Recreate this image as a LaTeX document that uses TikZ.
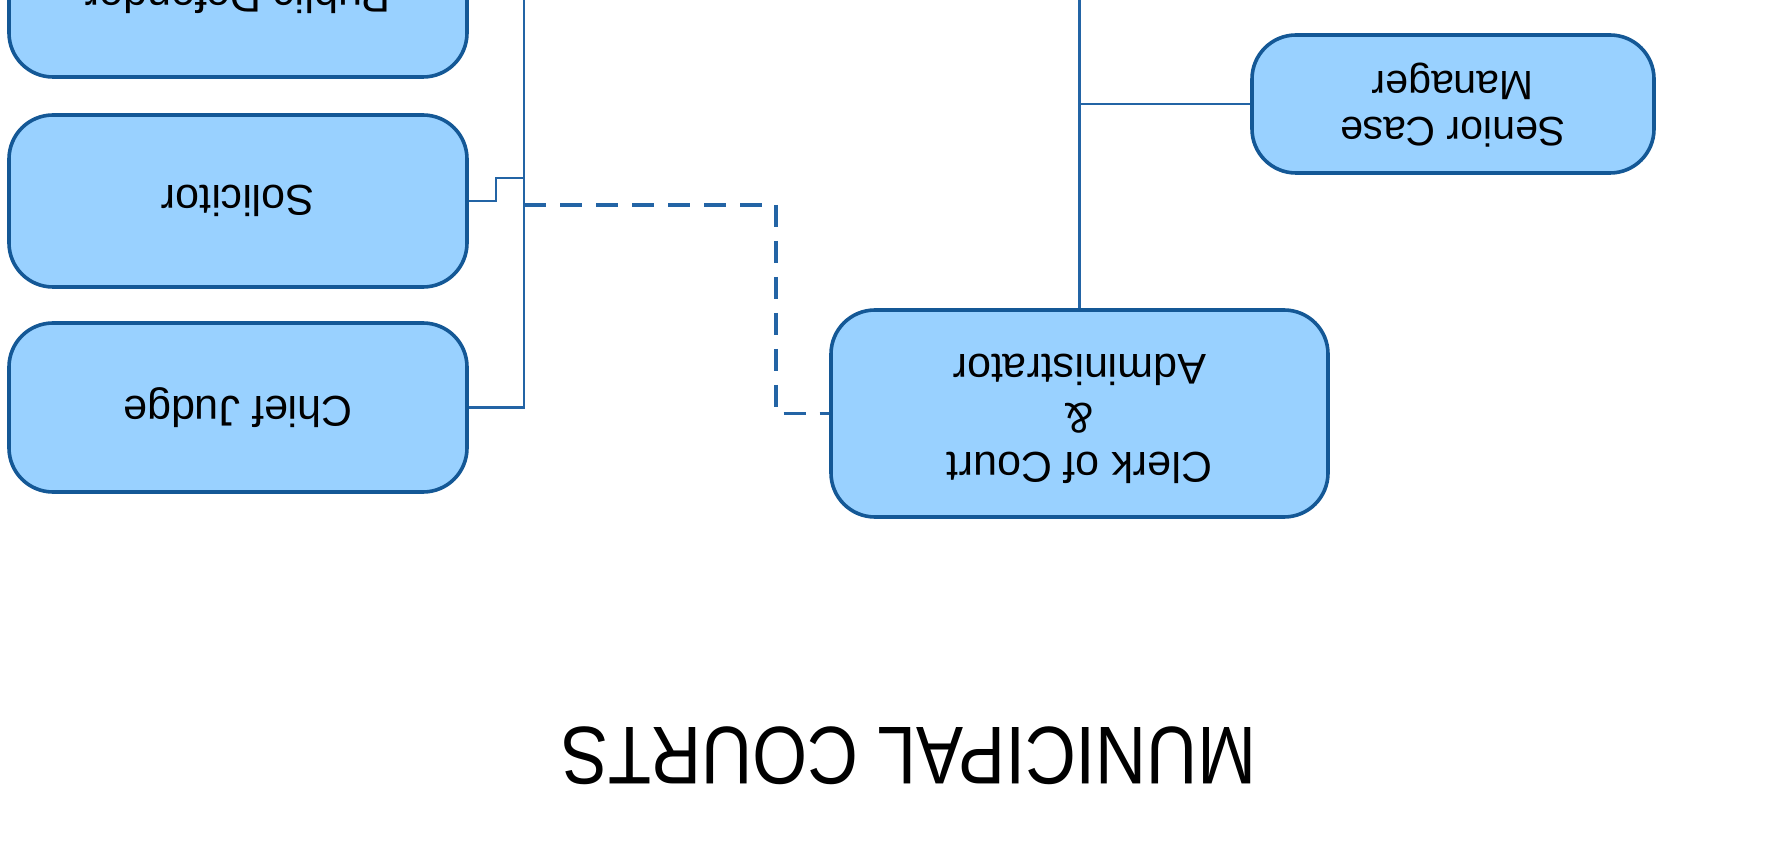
\documentclass[tikz,border=0pt]{standalone}
\usepackage{fontspec}
\setmainfont{Liberation Sans}
\usepackage{graphicx}
\definecolor{boxfill}{RGB}{153,209,255}
\definecolor{boxline}{RGB}{20,88,150}
\definecolor{conn}{RGB}{35,100,165}
\begin{document}
\begin{tikzpicture}[x=0.5pt,y=-0.5pt,
  orgbox/.style={draw=boxline,fill=boxfill,line width=1.8pt,rounded corners=22pt,
    inner sep=0pt,font=\fontsize{21.5}{24.5}\selectfont},
  link/.style={draw=conn,line width=1.4pt},
  dlink/.style={draw=conn,line width=1.6pt,dash pattern=on 11pt off 7pt}]
\useasboundingbox (0,0) rectangle (1766,844);
\clip (0,0) rectangle (1766,844);
\fill[white] (0,0) rectangle (1766,844);
% boxes
\node[orgbox,minimum width=229pt,minimum height=79pt] (pd) at (238,-2)
  {\rotatebox{180}{Public Defender}};
\node[orgbox,minimum width=229pt,minimum height=86pt] (sol) at (238,201)
  {\rotatebox{180}{Solicitor}};
\node[orgbox,minimum width=229pt,minimum height=84.5pt] (cj) at (238,407.5)
  {\rotatebox{180}{Chief Judge}};
\node[orgbox,minimum width=248.5pt,minimum height=103.5pt] (clerk) at (1079.5,413.5)
  {\rotatebox{180}{\begin{tabular}{@{}c@{}}Clerk of Court\\ \&\\ Administrator\end{tabular}}};
\node[orgbox,minimum width=201pt,minimum height=69pt,font=\fontsize{20.5}{23}\selectfont] (scm) at (1453,104)
  {\rotatebox{180}{\begin{tabular}{@{}c@{}}Senior Case\\ Manager\end{tabular}}};
\node[inner sep=0pt] (title) at (909,756)
  {\rotatebox{180}{\scalebox{0.86}[1]{\fontsize{41}{45}\selectfont MUNICIPAL COURTS}}};
% coordinates
\coordinate (trunktop) at (524,-20);
\coordinate (solstep) at (496,178);
\coordinate (dashstart) at (524,205);
\coordinate (dashbend) at (776,205);
\coordinate (clerktop) at (1079.5,-20);
% connectors
\draw[link] (cj.east) -- (cj.east -| trunktop) -- (trunktop);
\draw[link] (sol.east) -- (sol.east -| solstep) -- (solstep) -- (solstep -| trunktop);
\draw[dlink] (dashstart) -- (dashbend) -- (dashbend |- clerk.west) -- (clerk.west);
\draw[link] (clerk.north) -- (clerktop);
\draw[link] (scm.west -| clerk.north) -- (scm.west);
\end{tikzpicture}
\end{document}
